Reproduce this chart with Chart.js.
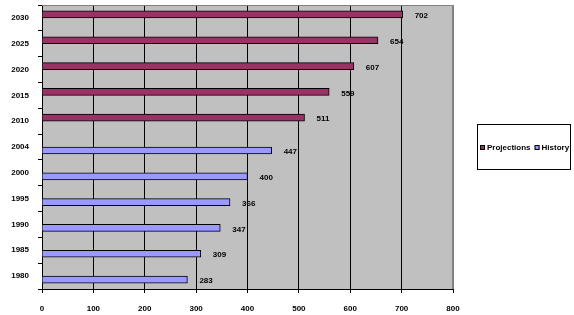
<!DOCTYPE html>
<html>
<head>
<meta charset="utf-8">
<script src="https://cdn.jsdelivr.net/npm/chart.js@4/dist/chart.umd.min.js"></script>
<style>
  html, body { margin: 0; padding: 0; background: #fff; }
  #wrap { width: 574px; height: 315px; }
</style>
</head>
<body>
<div id="wrap"><canvas id="chart" width="574" height="315"></canvas></div>
<script>
// categories top to bottom, as in the picture
const years = ['2030', '2025', '2020', '2015', '2010', '2004', '2000', '1995', '1990', '1985', '1980'];
const projections = [702, 654, 607, 559, 511, null, null, null, null, null, null];
const history = [null, null, null, null, null, 447, 400, 366, 347, 309, 283];
const xTicks = [0, 100, 200, 300, 400, 500, 600, 700, 800];

const FONT = "'Liberation Sans', Arial, sans-serif";

// grey plot area + grey top/right border, like the old Excel look
const plotArea = {
    id: 'plotArea',
    beforeDraw(chart) {
        const { ctx, chartArea: a } = chart;
        ctx.save();
        ctx.fillStyle = '#c0c0c0';
        ctx.fillRect(a.left, a.top, a.right - a.left, a.bottom - a.top);
        ctx.restore();
    },
    afterDatasetsDraw(chart) {
        const { ctx, chartArea: a } = chart;
        ctx.save();
        ctx.strokeStyle = '#808080';
        ctx.lineWidth = 1;
        ctx.beginPath();
        ctx.moveTo(a.left, a.top + 0.5);
        ctx.lineTo(a.right - 0.5, a.top + 0.5);
        ctx.lineTo(a.right - 0.5, a.bottom);
        ctx.stroke();
        ctx.restore();
    }
};

// value labels right of each bar end
const valueLabels = {
    id: 'valueLabels',
    afterDatasetsDraw(chart) {
        const { ctx } = chart;
        ctx.save();
        ctx.font = 'bold 8px ' + FONT;
        ctx.fillStyle = '#000';
        ctx.textAlign = 'left';
        ctx.textBaseline = 'middle';
        chart.data.datasets.forEach((ds, i) => {
            chart.getDatasetMeta(i).data.forEach((bar, j) => {
                const v = ds.data[j];
                if (v == null) return;
                ctx.fillText(String(v), bar.x + 12, bar.y + 1.5);
            });
        });
        ctx.restore();
    }
};

// boxed one-row legend on the right
const boxLegend = {
    id: 'boxLegend',
    afterDraw(chart) {
        const { ctx } = chart;
        ctx.save();
        ctx.strokeStyle = '#000';
        ctx.lineWidth = 1;
        ctx.strokeRect(477.5, 124.5, 93, 45);
        ctx.font = 'bold 8px ' + FONT;
        ctx.textBaseline = 'middle';
        ctx.textAlign = 'left';
        const y = 148;
        let x = 480;
        chart.data.datasets.forEach(ds => {
            ctx.fillStyle = ds.backgroundColor;
            ctx.fillRect(x, y - 3, 5, 5);
            ctx.strokeStyle = '#000';
            ctx.strokeRect(x + 0.5, y - 2.5, 4, 4);
            ctx.fillStyle = '#000';
            ctx.fillText(ds.label, x + 7, y);
            x += 7 + ctx.measureText(ds.label).width + 4;
        });
        ctx.restore();
    }
};

new Chart(document.getElementById('chart'), {
    type: 'bar',
    data: {
        labels: years,
        datasets: [
            {
                label: 'Projections', data: projections,
                backgroundColor: '#993366', borderColor: '#000', borderWidth: 1,
                barThickness: 7
            },
            {
                label: 'History', data: history,
                backgroundColor: '#9999ff', borderColor: '#000', borderWidth: 1,
                barThickness: 7
            }
        ]
    },
    options: {
        indexAxis: 'y',
        responsive: false,
        animation: false,
        devicePixelRatio: 1,
        layout: { padding: { left: 0, right: 121, top: 5, bottom: 0 } },
        plugins: { legend: { display: false }, tooltip: { enabled: false } },
        scales: {
            x: {
                min: 0, max: 800,
                afterBuildTicks: s => { s.ticks = xTicks.map(v => ({ value: v })); },
                afterFit: s => { s.height = 26; s.paddingLeft = 0; s.paddingRight = 0; },
                grid: {
                    color: c => (c.tick && c.tick.value === 800 ? '#808080' : '#000'),
                    tickColor: '#000',
                    tickLength: 4,
                    lineWidth: 1
                },
                border: { color: '#000' },
                ticks: { color: '#000', padding: 11, font: { family: FONT, size: 8, weight: 'bold' } }
            },
            y: {
                afterFit: s => { s.width = 42; s.paddingTop = 0; s.paddingBottom = 0; },
                grid: { drawOnChartArea: false, color: '#000', tickLength: 4, offset: true },
                border: { color: '#000' },
                ticks: { color: '#000', padding: 9, font: { family: FONT, size: 8, weight: 'bold' } }
            }
        }
    },
    plugins: [plotArea, valueLabels, boxLegend]
});
</script>
</body>
</html>
